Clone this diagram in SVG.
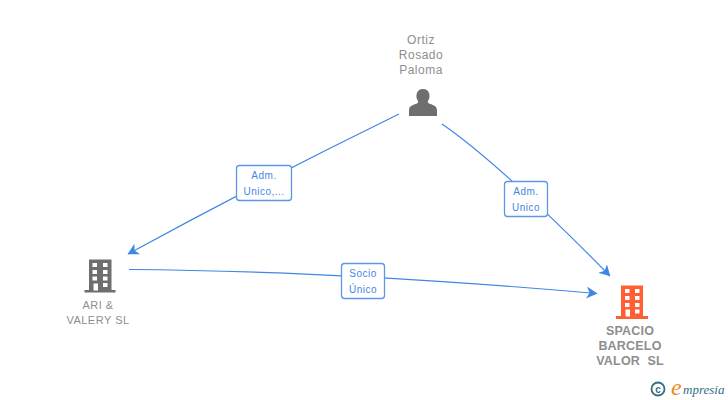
<svg xmlns="http://www.w3.org/2000/svg" width="728" height="400" viewBox="0 0 728 400">
<defs>
<style>
.n{font-family:"Liberation Sans",Arial,sans-serif;font-size:12px;letter-spacing:.5px;fill:#8e8e8e;text-anchor:middle}
.s{font-family:"Liberation Sans",Arial,sans-serif;font-size:11px;letter-spacing:.5px;fill:#8e8e8e;text-anchor:middle}
.nb{font-family:"Liberation Sans",Arial,sans-serif;font-size:12.5px;letter-spacing:.2px;font-weight:bold;fill:#8e8e8e;text-anchor:middle}
.l{font-family:"Liberation Sans",Arial,sans-serif;font-size:10px;letter-spacing:.5px;fill:#3f87e5;text-anchor:middle}
.c{fill:none;stroke:#3f87e5;stroke-width:1.2}
.b{fill:#fff;stroke:#5b97e6;stroke-width:1.3}
</style>
<marker id="a" viewBox="0 0 12 12" refX="10.5" refY="6" markerWidth="12" markerHeight="12" markerUnits="userSpaceOnUse" orient="auto"><path d="M0 0L11 6L0 12L3 6Z" fill="#3f87e5"/></marker>
</defs>
<rect width="728" height="400" fill="#fff"/>
<g id="connectors">
<path class="c" marker-end="url(#a)" d="M399 114Q262 181 128 254"/>
<path class="c" marker-end="url(#a)" d="M442 124Q500 164 610 276"/>
<path class="c" marker-end="url(#a)" d="M129 269.500Q340 271 597 293.500"/>
</g>
<g id="person">
<text class="n" x="421" y="44">Ortiz</text>
<text class="n" x="421" y="59">Rosado</text>
<text class="n" x="421" y="74">Paloma</text>
<path fill="#6e6e6e" d="M409 116V110C409 106 413 105 417 103.500C418.500 102.800 418.500 101.500 417.500 100C415.500 97.500 415.800 89 423 89C430.200 89 430.500 97.500 428.500 100C427.500 101.500 427.500 102.800 429 103.500C433 105 437 106 437 110V116Z"/>
</g>
<g id="ari">
<path fill="#6e6e6e" d="M89 259.500H111.500V290H115.500V292.500H84.500V290H89Z"/>
<g fill="#fff">
<rect x="92.500" y="263" width="4.500" height="4"/><rect x="103" y="263" width="4.500" height="4"/>
<rect x="92.500" y="270" width="4.500" height="4"/><rect x="103" y="270" width="4.500" height="4"/>
<rect x="92.500" y="276.500" width="4.500" height="4"/><rect x="103" y="276.500" width="4.500" height="4"/>
<rect x="93.500" y="283.500" width="4.500" height="7"/><rect x="103" y="283" width="4.500" height="4"/>
</g>
<text class="s" x="98" y="309">ARI &amp;</text>
<text class="s" x="98" y="324">VALERY SL</text>
</g>
<g id="spacio">
<path fill="#ff5f33" d="M621 285.500H643V316H648V319H616V316H621Z"/>
<g fill="#fff">
<rect x="625" y="289" width="4.500" height="4"/><rect x="635" y="289" width="4.500" height="4"/>
<rect x="625" y="296" width="4.500" height="4"/><rect x="635" y="296" width="4.500" height="4"/>
<rect x="625" y="303" width="4.500" height="4"/><rect x="635" y="303" width="4.500" height="4"/>
<rect x="625.500" y="309.500" width="4.500" height="7"/><rect x="635" y="309.500" width="4.500" height="4"/>
</g>
<text class="nb" x="630" y="335">SPACIO</text>
<text class="nb" x="630" y="350">BARCELO</text>
<text class="nb" x="630" y="365" xml:space="preserve">VALOR  SL</text>
</g>
<g id="label-adm1">
<rect class="b" x="236.500" y="165.500" width="55" height="35" rx="3"/>
<text class="l" x="264" y="179">Adm.</text>
<text class="l" x="264" y="195">Unico,...</text>
</g>
<g id="label-adm2">
<rect class="b" x="504.500" y="181.500" width="43" height="35" rx="3"/>
<text class="l" x="526" y="195">Adm.</text>
<text class="l" x="526" y="211">Unico</text>
</g>
<g id="label-socio">
<rect class="b" x="341.500" y="263.500" width="43" height="35" rx="3"/>
<text class="l" x="363" y="277">Socio</text>
<text class="l" x="363" y="293">Único</text>
</g>
<g id="brand">
<circle cx="658" cy="389" r="6.500" fill="none" stroke="#2f6f83" stroke-width="1.800"/>
<text x="658" y="392.500" style="font-family:'Liberation Sans',sans-serif;font-size:10px;font-weight:bold;fill:#2f6f83;text-anchor:middle">c</text>
<text x="671" y="395" style="font-family:'Liberation Serif',serif;font-size:24px;font-style:italic;fill:#f08a1d">e</text>
<text x="683" y="394" style="font-family:'Liberation Serif',serif;font-size:13px;font-style:italic;fill:#2f6f83">mpresia</text>
</g>
</svg>
